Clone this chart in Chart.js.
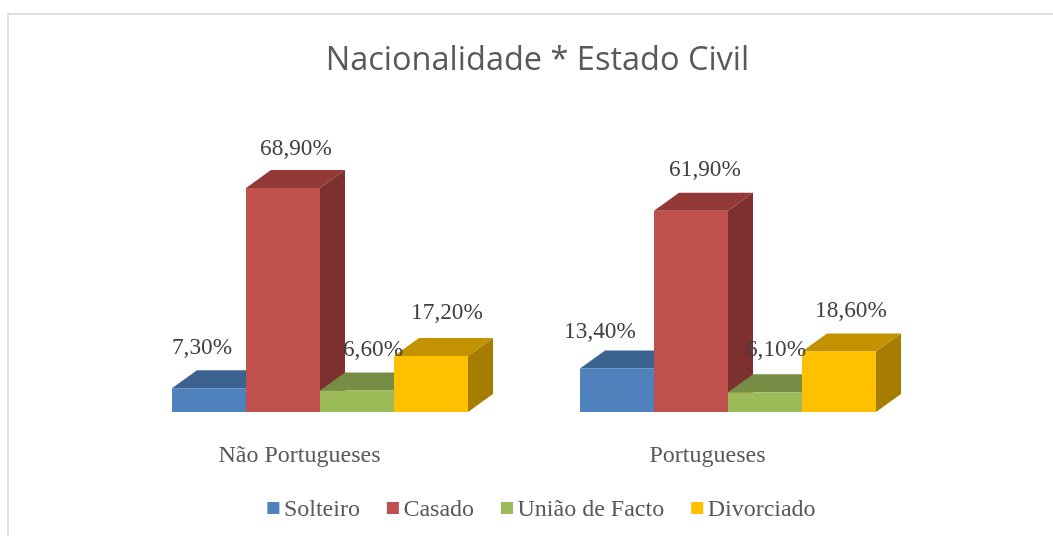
<!DOCTYPE html>
<html>
<head>
<meta charset="utf-8">
<script src="https://cdn.jsdelivr.net/npm/chart.js@4"></script>
<style>
html,body{margin:0;padding:0;background:#fff;overflow:hidden;width:1053px;height:536px}
#frame{position:absolute;left:7px;top:13px;width:1100px;height:600px;border:2px solid #dedede;box-sizing:border-box}
canvas{position:absolute;left:0;top:0}
</style>
</head>
<body>
<div id="frame"></div>
<canvas id="c" width="1053" height="536"></canvas>
<script>
const chartTitle = 'Nacionalidade * Estado Civil';
const categories = ['Não Portugueses', 'Portugueses'];
const solteiro = [7.3, 13.4];
const casado = [68.9, 61.9];
const uniaoFacto = [6.6, 6.1];
const divorciado = [17.2, 18.6];

const seriesNames = ['Solteiro', 'Casado', 'União de Facto', 'Divorciado'];
const frontColors = ['#4F81BD', '#C0504D', '#9BBB59', '#FFC000'];
const topColors = ['#3C6290', '#933A38', '#768E44', '#C29200'];
const sideColors = ['#335377', '#7D302E', '#637838', '#A67D00'];

const labelOffsets = [
  [[-7, -40], [-17, -37]],
  [[13, -39], [14, -41]],
  [[16, -41], [11, -42]],
  [[16, -43], [12, -41]]
];

const DEPTH_X = 25, DEPTH_Y = 18;
const SERIF = '"Liberation Serif", serif';
const LABEL_SIZE = 23.3, AXIS_SIZE = 24, LEGEND_SIZE = 24;

const depthPlugin = {
  id: 'depth',
  beforeDatasetsDraw(chart) {
    const ctx = chart.ctx;
    ctx.save();
    categories.forEach((_, i) => {
      chart.data.datasets.forEach((ds, d) => {
        const bar = chart.getDatasetMeta(d).data[i];
        const left = bar.x - bar.width / 2, right = bar.x + bar.width / 2;
        const top = bar.y, base = bar.base;
        ctx.fillStyle = sideColors[d];
        ctx.beginPath();
        ctx.moveTo(right, top);
        ctx.lineTo(right + DEPTH_X, top - DEPTH_Y);
        ctx.lineTo(right + DEPTH_X, base - DEPTH_Y);
        ctx.lineTo(right, base);
        ctx.closePath();
        ctx.fill();
        ctx.fillStyle = topColors[d];
        ctx.beginPath();
        ctx.moveTo(left, top);
        ctx.lineTo(left + DEPTH_X, top - DEPTH_Y);
        ctx.lineTo(right + DEPTH_X, top - DEPTH_Y);
        ctx.lineTo(right, top);
        ctx.closePath();
        ctx.fill();
      });
    });
    ctx.restore();
  },
  afterDatasetsDraw(chart) {
    const ctx = chart.ctx;
    ctx.save();
    ctx.font = LABEL_SIZE + 'px ' + SERIF;
    ctx.fillStyle = '#404040';
    ctx.textAlign = 'center';
    ctx.textBaseline = 'middle';
    chart.data.datasets.forEach((ds, d) => {
      chart.getDatasetMeta(d).data.forEach((bar, i) => {
        const text = ds.data[i].toFixed(2).replace('.', ',') + '%';
        const off = labelOffsets[d][i];
        ctx.fillText(text, bar.x + off[0], bar.y + off[1]);
      });
    });
    ctx.restore();
  },
  afterDraw(chart) {
    const ctx = chart.ctx;
    const box = 12, boxGap = 4.5, itemGap = 27, yMid = 508;
    ctx.save();
    ctx.font = LEGEND_SIZE + 'px ' + SERIF;
    ctx.textBaseline = 'middle';
    ctx.textAlign = 'left';
    const names = chart.data.datasets.map(ds => ds.label);
    const widths = names.map(n => ctx.measureText(n).width);
    const total = widths.reduce((a, w) => a + w + box + boxGap, 0) + itemGap * (names.length - 1);
    let x = 541.5 - total / 2;
    names.forEach((n, i) => {
      ctx.fillStyle = chart.data.datasets[i].backgroundColor;
      ctx.fillRect(x, yMid - box / 2, box, box);
      ctx.fillStyle = '#595959';
      ctx.fillText(n, x + box + boxGap, yMid + 2);
      x += box + boxGap + widths[i] + itemGap;
    });
    ctx.restore();
  }
};

new Chart(document.getElementById('c'), {
  type: 'bar',
  data: {
    labels: categories,
    datasets: [
      { label: seriesNames[0], data: solteiro, backgroundColor: frontColors[0] },
      { label: seriesNames[1], data: casado, backgroundColor: frontColors[1] },
      { label: seriesNames[2], data: uniaoFacto, backgroundColor: frontColors[2] },
      { label: seriesNames[3], data: divorciado, backgroundColor: frontColors[3] }
    ]
  },
  options: {
    responsive: false,
    animation: false,
    layout: { padding: { left: 22, right: 0, top: 0, bottom: 0 } },
    datasets: { bar: { categoryPercentage: 0.7255, barPercentage: 1 } },
    plugins: {
      legend: { display: false },
      tooltip: { enabled: false },
      title: {
        display: true,
        text: chartTitle,
        color: '#595959',
        font: { family: '"Open Sans", sans-serif', size: 32.5, weight: 'normal', lineHeight: 1.2 },
        padding: { top: 41, bottom: 7 }
      }
    },
    scales: {
      x: {
        grid: { display: false, drawTicks: false },
        border: { display: false },
        ticks: {
          color: '#595959',
          padding: 29,
          labelOffset: -20.5,
          maxRotation: 0,
          font: { family: SERIF, size: AXIS_SIZE }
        },
        afterFit(s) { s.height = 124; }
      },
      y: {
        min: 0,
        max: 100,
        position: 'left',
        grid: { display: false, drawTicks: false },
        border: { display: false },
        ticks: { display: false },
        afterFit(s) { s.width = 94; }
      },
      yRight: {
        min: 0,
        max: 100,
        position: 'right',
        grid: { display: false, drawTicks: false },
        border: { display: false },
        ticks: { display: false },
        afterFit(s) { s.width = 121; }
      }
    }
  },
  plugins: [depthPlugin]
});
</script>
</body>
</html>
